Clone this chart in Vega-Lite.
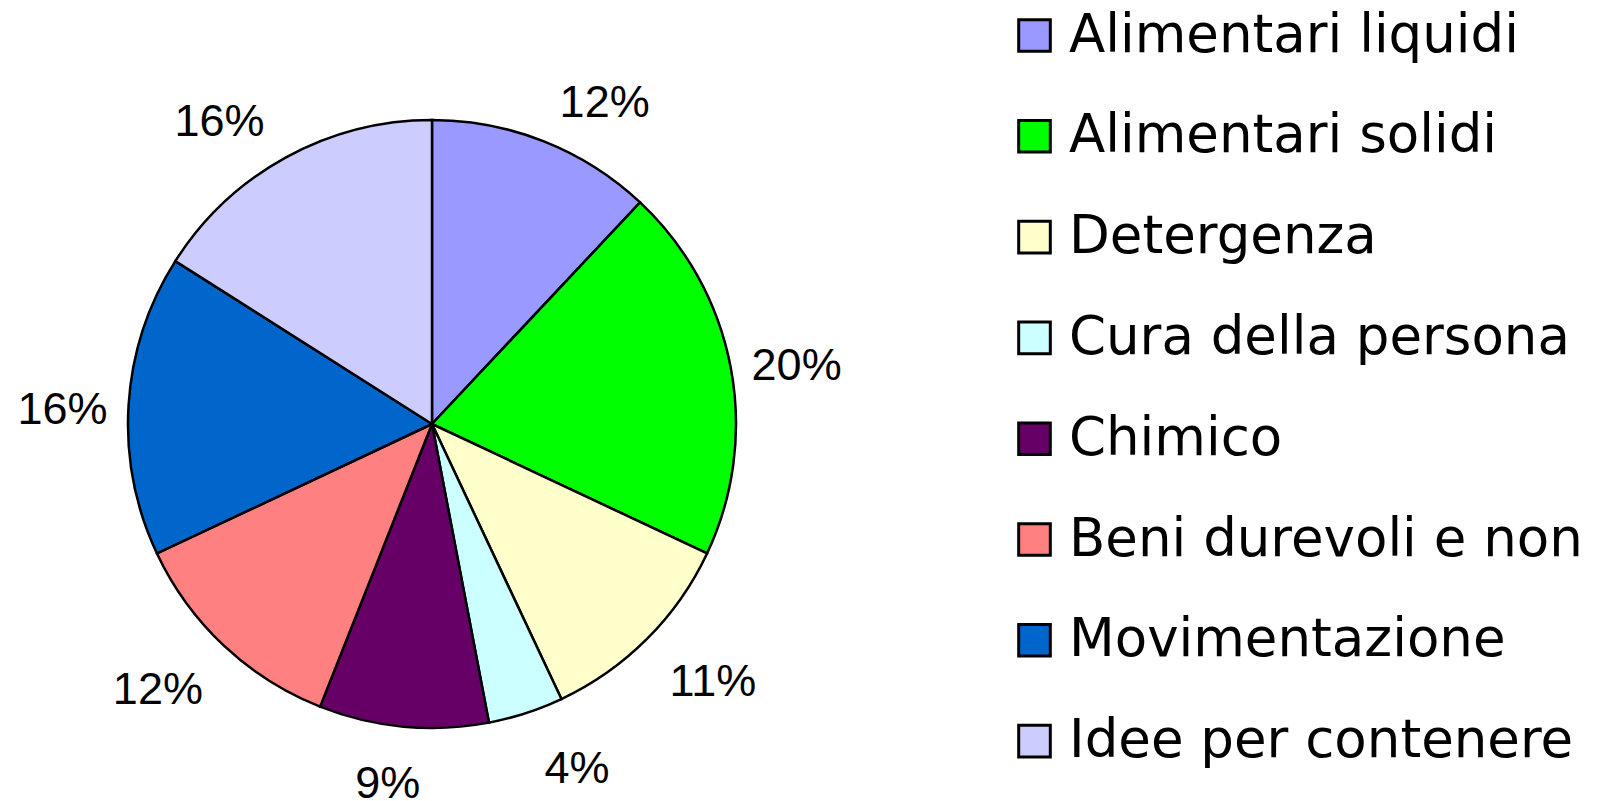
{
  "$schema": "https://vega.github.io/schema/vega-lite/v6.json",
  "width": 864,
  "height": 752,
  "autosize": {"type": "none"},
  "padding": {"left": 0, "top": 48, "right": 736, "bottom": 1},
  "background": "white",
  "config": {"view": {"stroke": null}},
  "data": {
    "values": [
      {"ordine": 1, "categoria": "Alimentari liquidi", "valore": 12, "etichetta": "12%"},
      {"ordine": 2, "categoria": "Alimentari solidi", "valore": 20, "etichetta": "20%"},
      {"ordine": 3, "categoria": "Detergenza", "valore": 11, "etichetta": "11%"},
      {"ordine": 4, "categoria": "Cura della persona", "valore": 4, "etichetta": "4%"},
      {"ordine": 5, "categoria": "Chimico", "valore": 9, "etichetta": "9%"},
      {"ordine": 6, "categoria": "Beni durevoli e non", "valore": 12, "etichetta": "12%"},
      {"ordine": 7, "categoria": "Movimentazione", "valore": 16, "etichetta": "16%"},
      {"ordine": 8, "categoria": "Idee per contenere", "valore": 16, "etichetta": "16%"}
    ]
  },
  "encoding": {
    "theta": {"field": "valore", "type": "quantitative", "stack": true},
    "order": {"field": "ordine", "type": "quantitative"}
  },
  "layer": [
    {
      "mark": {"type": "arc", "radius": 304, "stroke": "black", "strokeWidth": 2.5},
      "encoding": {
        "color": {
          "field": "categoria",
          "type": "nominal",
          "sort": null,
          "scale": {
            "domain": ["Alimentari liquidi", "Alimentari solidi", "Detergenza", "Cura della persona", "Chimico", "Beni durevoli e non", "Movimentazione", "Idee per contenere"],
            "range": ["#9999FF", "#00FF00", "#FFFFCC", "#CCFFFF", "#660066", "#FF8080", "#0066CC", "#CCCCFF"]
          },
          "legend": {
            "orient": "none",
            "legendX": 1008,
            "legendY": -39,
            "title": null,
            "symbolType": "square",
            "symbolSize": 1000,
            "symbolStrokeColor": "black",
            "symbolStrokeWidth": 3,
            "labelFont": "DejaVu Sans",
            "labelFontSize": 53,
            "labelColor": "black",
            "labelOffset": 8,
            "rowPadding": 46.8,
            "labelLimit": 1000
          }
        }
      }
    },
    {
      "mark": {
        "type": "text",
        "font": "Liberation Sans",
        "fontSize": 45,
        "radius": 304,
        "dx": {"expr": "66*clamp(2.5*sin(PI*(datum.valore_start+datum.valore_end)/100), -1, 1)"},
        "dy": {"expr": "8 - 50*cos(PI*(datum.valore_start+datum.valore_end)/100)"}
      },
      "encoding": {
        "text": {"field": "etichetta", "type": "nominal"},
        "color": {"value": "black"}
      }
    }
  ]
}
